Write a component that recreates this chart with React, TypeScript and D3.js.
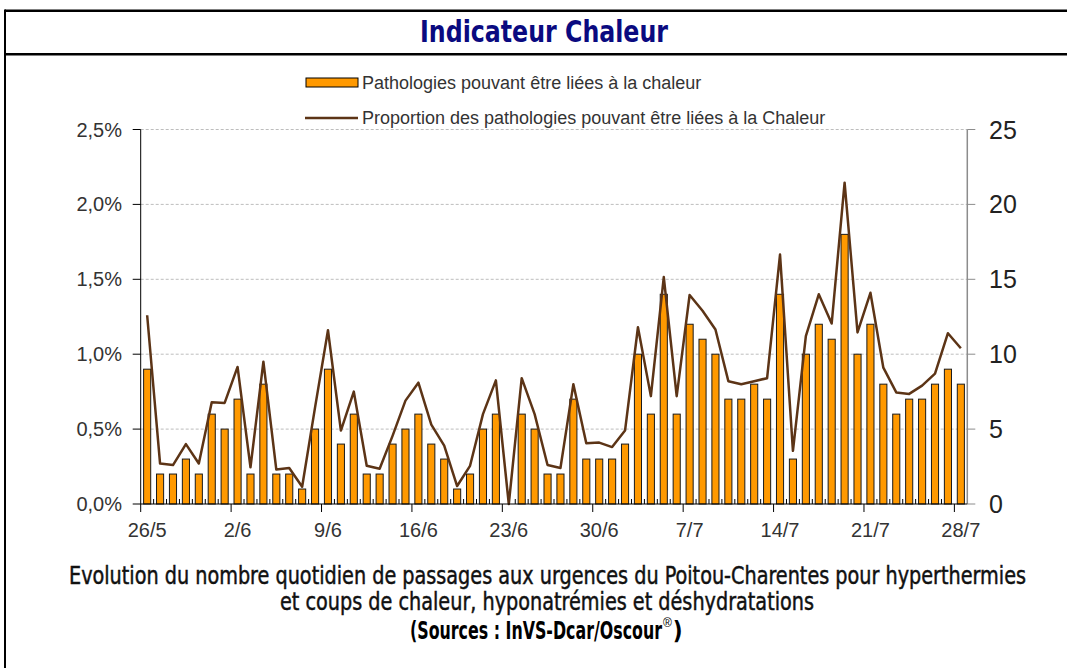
import * as d3 from "d3";

// daily values, 26/5 -> 28/7
const startDay = new Date(2013, 4, 26);
const endDay = new Date(2013, 6, 29);
const categories = d3.timeDay
  .range(startDay, endDay)
  .map((d) => `${d.getDate()}/${d.getMonth() + 1}`);

const tickLabels = ["26/5", "2/6", "9/6", "16/6", "23/6", "30/6", "7/7", "14/7", "21/7", "28/7"];

// nombre de passages (right axis)
const counts = [
  9, 2, 2, 3, 2, 6, 5, 7, 2, 8, 2, 2, 1, 5, 9, 4, 6, 2, 2, 4, 5,
  6, 4, 3, 1, 2, 5, 6, 0, 6, 5, 2, 2, 7, 3, 3, 3, 4, 10, 6, 14,
  6, 12, 11, 10, 7, 7, 8, 7, 14, 3, 10, 12, 11, 18, 10, 12, 8, 6, 7, 7, 8, 9, 8,
];

// proportion in % (left axis)
const proportion = [
  1.26, 0.27, 0.26, 0.4, 0.27, 0.68, 0.675, 0.915, 0.245, 0.95, 0.23, 0.24, 0.115, 0.645, 1.16, 0.49, 0.75, 0.255, 0.235, 0.455, 0.69,
  0.81, 0.53, 0.39, 0.12, 0.255, 0.6, 0.825, 0.0, 0.84, 0.6, 0.26, 0.24, 0.8, 0.405, 0.41, 0.38, 0.49, 1.18, 0.72, 1.515,
  0.72, 1.395, 1.29, 1.165, 0.82, 0.8, 0.82, 0.84, 1.665, 0.355, 1.12, 1.4, 1.205, 2.145, 1.145, 1.41, 0.91, 0.745, 0.735, 0.79, 0.87, 1.14, 1.04,
];

const leftTicks = [0, 0.5, 1.0, 1.5, 2.0, 2.5];
const rightTicks = [0, 5, 10, 15, 20, 25];

const narrow = "'Liberation Sans Narrow', 'DejaVu Sans Condensed', 'Roboto Condensed', sans-serif";
const sans = "'Liberation Sans', Arial, sans-serif";

export default function App() {
  const plot = { left: 140.7, right: 967.3, top: 129.5, bottom: 504 };

  const x = d3
    .scaleBand<string>()
    .domain(categories)
    .range([plot.left, plot.right])
    .paddingInner(0.45)
    .paddingOuter(0.225);
  const step = x.step();
  const yPct = d3.scaleLinear().domain([0, 2.5]).range([plot.bottom, plot.top]);
  const yCount = d3.scaleLinear().domain([0, 25]).range([plot.bottom, plot.top]);

  const line = d3
    .line<number>()
    .x((_, i) => x(categories[i])! + x.bandwidth() / 2)
    .y((d) => yPct(d));

  const boundary = (i: number) => plot.left + i * step;

  return (
    <svg
      width={1067}
      height={668}
      style={{ position: "absolute", left: 0, top: 0, background: "#fff" }}
    >
      {/* frame */}
      <line x1={5} x2={1067} y1={10.7} y2={10.7} stroke="#000" strokeWidth={2.5} />
      <line x1={5} x2={1067} y1={54.3} y2={54.3} stroke="#000" strokeWidth={2.5} />
      <line x1={5} x2={5} y1={9.5} y2={668} stroke="#000" strokeWidth={2} />
      <text
        x={420}
        y={41.7}
        fontFamily={narrow}
        fontWeight="bold"
        fontSize={30}
        fill="#0a0a80"
        textLength={248}
        lengthAdjust="spacingAndGlyphs"
      >
        Indicateur Chaleur
      </text>

      {/* legend */}
      <rect x={306} y={78} width={52} height={9} fill="#ff9900" stroke="#000" strokeWidth={1} />
      <text x={362} y={89} fontFamily={sans} fontSize={18} fill="#333">
        Pathologies pouvant être liées à la chaleur
      </text>
      <line x1={305} x2={358} y1={118} y2={118} stroke="#5c3416" strokeWidth={2.5} />
      <text x={362} y={124} fontFamily={sans} fontSize={18} fill="#333">
        Proportion des pathologies pouvant être liées à la Chaleur
      </text>

      {/* grid */}
      {leftTicks.slice(1).map((t) => (
        <line
          key={`g-${t}`}
          x1={plot.left}
          x2={plot.right}
          y1={yPct(t)}
          y2={yPct(t)}
          stroke="#bdbdbd"
          strokeDasharray="3,2"
        />
      ))}

      {/* bars */}
      {counts.map((v, i) =>
        v > 0 ? (
          <rect
            key={`bar-${i}`}
            x={x(categories[i])}
            y={yCount(v)}
            width={x.bandwidth()}
            height={plot.bottom - yCount(v)}
            fill="#ff9900"
            stroke="#1a1a1a"
            strokeWidth={1}
          />
        ) : null
      )}

      {/* line */}
      <path d={line(proportion) ?? ""} fill="none" stroke="#5c3416" strokeWidth={2.5} strokeLinejoin="round" />

      {/* left axis */}
      <line x1={plot.left} x2={plot.left} y1={plot.top} y2={plot.bottom} stroke="#000" />
      {leftTicks.map((t) => (
        <g key={`l-${t}`}>
          <line x1={plot.left - 8} x2={plot.left} y1={yPct(t)} y2={yPct(t)} stroke="#000" />
          <text
            x={122}
            y={yPct(t)}
            dy="0.35em"
            textAnchor="end"
            fontFamily={sans}
            fontSize={20}
            fill="#333"
          >
            {d3.format(".1f")(t).replace(".", ",")}%
          </text>
        </g>
      ))}

      {/* right axis */}
      <line x1={plot.right} x2={plot.right} y1={plot.top} y2={plot.bottom} stroke="#8c8c8c" strokeWidth={1.5} />
      {rightTicks.map((t) => (
        <g key={`r-${t}`}>
          <line x1={plot.right} x2={plot.right + 8} y1={yCount(t)} y2={yCount(t)} stroke="#8c8c8c" />
          <text x={989} y={yCount(t)} dy="0.36em" fontFamily={sans} fontSize={25} fill="#222">
            {t}
          </text>
        </g>
      ))}

      {/* bottom axis */}
      <line x1={plot.left} x2={plot.right} y1={plot.bottom} y2={plot.bottom} stroke="#000" />
      {categories.map((c, i) =>
        i % 7 === 0 ? (
          <g key={`t-${c}`}>
            <line x1={boundary(i)} x2={boundary(i)} y1={plot.bottom} y2={plot.bottom + 8} stroke="#000" />
            <text
              x={x(c)! + x.bandwidth() / 2}
              y={537}
              textAnchor="middle"
              fontFamily={sans}
              fontSize={20}
              fill="#333"
            >
              {tickLabels[i / 7]}
            </text>
          </g>
        ) : (
          <line
            key={`t-${c}`}
            x1={boundary(i)}
            x2={boundary(i)}
            y1={plot.bottom - 5}
            y2={plot.bottom}
            stroke="#000"
          />
        )
      )}

      {/* caption */}
      <text
        x={69}
        y={583.5}
        fontFamily={narrow}
        fontSize={24}
        fill="#111"
        stroke="#111"
        strokeWidth={0.45}
        textLength={957}
        lengthAdjust="spacingAndGlyphs"
      >
        Evolution du nombre quotidien de passages aux urgences du Poitou-Charentes pour hyperthermies
      </text>
      <text
        x={280}
        y={609.5}
        fontFamily={narrow}
        fontSize={24}
        fill="#111"
        stroke="#111"
        strokeWidth={0.45}
        textLength={534}
        lengthAdjust="spacingAndGlyphs"
      >
        et coups de chaleur, hyponatrémies et déshydratations
      </text>
      <text x={410} y={639} fontFamily={narrow} fontWeight="bold" fontSize={24} fill="#000">
        <tspan textLength={252} lengthAdjust="spacingAndGlyphs">
          (Sources : InVS-Dcar/Oscour
        </tspan>
        <tspan fontFamily={sans} fontWeight="normal" fontSize={12} dx={1} dy={-12}>
          ®
        </tspan>
        <tspan dx={1} dy={12}>
          )
        </tspan>
      </text>
    </svg>
  );
}
